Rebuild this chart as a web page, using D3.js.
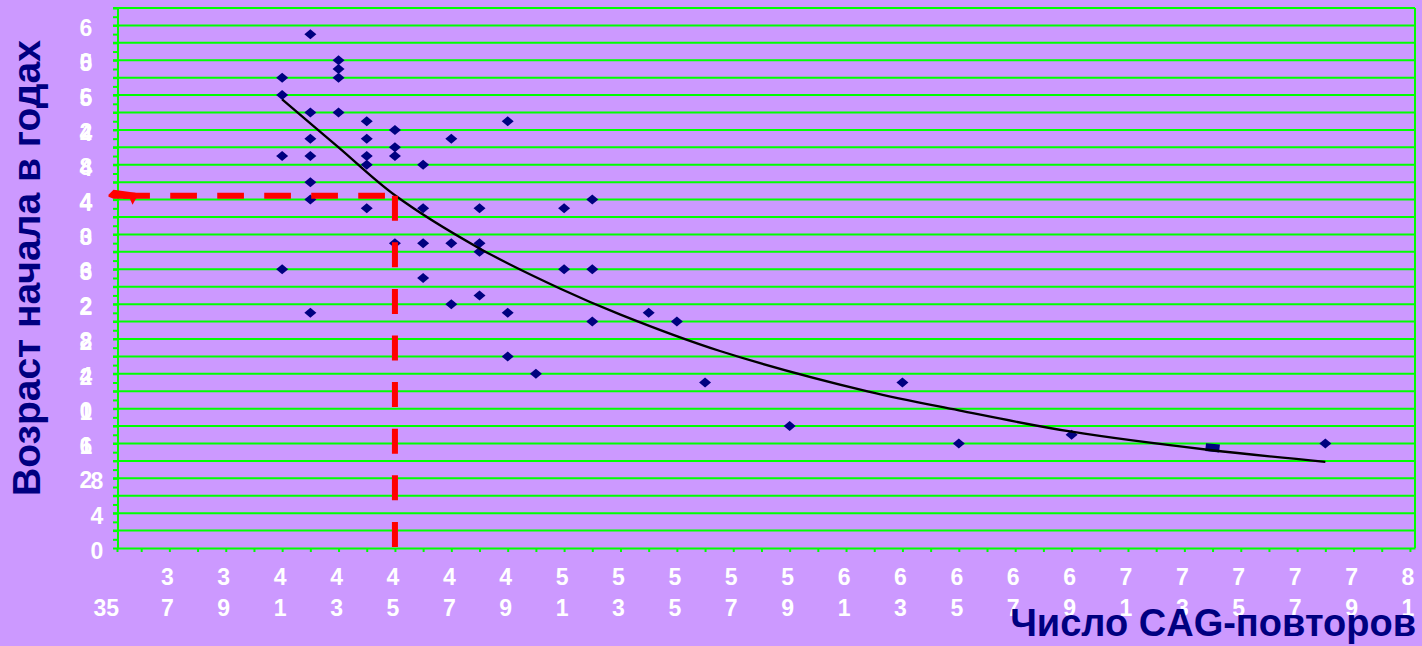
<!DOCTYPE html>
<html>
<head>
<meta charset="utf-8">
<script src="https://cdn.jsdelivr.net/npm/d3@7"></script>
<style>
  html, body { margin: 0; padding: 0; background: #CC99FF; }
  svg { display: block; }
</style>
</head>
<body>
<svg id="chart" width="1422" height="646"></svg>
<script>
// ---------- data ----------
const yAxisTitle = "Возраст начала в годах";
const xAxisTitle = "Число CAG-повторов";

const xTickLabels = [35,37,39,41,43,45,47,49,51,53,55,57,59,61,63,65,67,69,71,73,75,77,79,81];
const yTickLabels = [0,4,8,12,16,20,24,28,32,36,40,44,48,52,56,60];

// observed patients: [CAG repeats, age of onset]
const pointsX = [41,41,41,41, 42,42,42,42,42,42,42, 43,43,43,43, 44,44,44,44,44, 45,45,45,45,
                 46,46,46,46, 47,47,47, 48,48,48,48, 49,49,49, 50, 51,51, 52,52,52,
                 54,55,56,59,63,65,69,78];
const pointsY = [54,52,45,32, 59,50,47,45,42,40,27, 56,55,54,50, 49,47,45,44,39, 48,46,45,35,
                 44,39,35,31, 47,35,28, 39,35,34,29, 49,27,22, 20, 39,32, 40,32,26,
                 27,26,19,14,19,12,13,12];
const squareX = [74];
const squareY = [11.5];

// trend line
const trendX = [41, 43, 45, 48, 50.85, 53, 56.5, 61.8, 65, 69, 73.9, 78];
const trendY = [51.5, 46, 40.5, 34.4, 29.8, 26.8, 22.65, 17.95, 15.8, 13.35, 11.25, 9.9];

// annotation (red dashed guide)
const guideX = 45;
const guideY = 40.45;

// ---------- layout ----------
const svg = d3.select("#chart");
const W = 1422, H = 646;
const plot = { left: 117.5, right: 1415, top: 8, bottom: 548 };

const x = d3.scaleLinear().domain([35.16, 81.18]).range([plot.left, plot.right]);
const y = d3.scaleLinear().domain([0, 62]).range([plot.bottom, plot.top]);

const GREEN = "#00FF00";
const NAVY = "#000080";
const RED = "#FF0000";
const FONT = "'Liberation Sans', Arial, Helvetica, sans-serif";

svg.append("rect").attr("width", W).attr("height", H).attr("fill", "#CC99FF");

// gridlines (every 2 years)
svg.append("g").selectAll("line")
  .data(d3.range(2, 63, 2))
  .join("line")
  .attr("x1", plot.left - 4.5).attr("x2", plot.right)
  .attr("y1", d => y(d)).attr("y2", d => y(d))
  .attr("stroke", GREEN).attr("stroke-width", 2);

// right border
svg.append("line")
  .attr("x1", plot.right).attr("x2", plot.right)
  .attr("y1", plot.top).attr("y2", plot.bottom)
  .attr("stroke", GREEN).attr("stroke-width", 2);

// y axis
const yAxis = svg.append("g")
  .attr("transform", `translate(${plot.left},0)`)
  .call(d3.axisLeft(y).tickValues(d3.range(0, 63, 1)).tickSize(4.5).tickSizeOuter(0).tickFormat(""));
yAxis.selectAll("path,line").attr("stroke", GREEN).attr("stroke-width", 2);

// x axis
const xAxis = svg.append("g")
  .attr("transform", `translate(0,${plot.bottom})`)
  .call(d3.axisBottom(x).tickValues(d3.range(36, 82, 1)).tickSize(4).tickSizeOuter(0).tickFormat(""));
xAxis.selectAll("path,line").attr("stroke", GREEN).attr("stroke-width", 2);
svg.append("line")
  .attr("x1", plot.left).attr("x2", plot.left)
  .attr("y1", plot.bottom).attr("y2", plot.bottom + 4)
  .attr("stroke", GREEN).attr("stroke-width", 2);

// y tick labels (wrapped digits, as in the original)
const lblSize = 23, capHalf = 8;
const yl = svg.append("g").attr("font-family", FONT).attr("font-weight", "bold")
  .attr("font-size", lblSize).attr("fill", "#FFFFFF").attr("text-anchor", "middle");
yTickLabels.forEach(v => {
  const s = String(v);
  if (s.length === 1) {
    yl.append("text").attr("x", 97).attr("y", y(v) + 3 + capHalf).text(s);
  } else {
    yl.append("text").attr("x", 86).attr("y", y(v) + 3 + capHalf).text(s[0]);
    yl.append("text").attr("x", 86).attr("y", y(v) + 37 + capHalf).text(s[1]);
  }
});

// x tick labels
const xl = svg.append("g").attr("font-family", FONT).attr("font-weight", "bold")
  .attr("font-size", lblSize).attr("fill", "#FFFFFF").attr("text-anchor", "middle");
xTickLabels.forEach((v, i) => {
  const s = String(v);
  if (i === 0) {
    xl.append("text").attr("x", x(v) + 6).attr("y", 608 + capHalf)
      .attr("text-anchor", "end").text(s);
  } else {
    xl.append("text").attr("x", x(v) - 2).attr("y", 577 + capHalf).text(s[0]);
    xl.append("text").attr("x", x(v) - 2).attr("y", 608 + capHalf).text(s[1]);
  }
});

// data points (diamonds)
const diamond = (cx, cy) => `M${cx - 6},${cy}L${cx},${cy - 5}L${cx + 6},${cy}L${cx},${cy + 5}Z`;
svg.append("g").selectAll("path")
  .data(pointsX.map((v, i) => [v, pointsY[i]]))
  .join("path")
  .attr("d", d => diamond(x(d[0]), y(d[1])))
  .attr("fill", NAVY);

svg.append("g").selectAll("rect")
  .data(squareX.map((v, i) => [v, squareY[i]]))
  .join("rect")
  .attr("x", d => x(d[0]) - 7).attr("y", d => y(d[1]) - 4)
  .attr("width", 14).attr("height", 8)
  .attr("transform", d => `rotate(6,${x(d[0])},${y(d[1])})`)
  .attr("fill", NAVY);

// trend line
const line = d3.line().x(d => x(d[0])).y(d => y(d[1])).curve(d3.curveCatmullRom.alpha(0.5));
svg.append("path")
  .datum(trendX.map((v, i) => [v, trendY[i]]))
  .attr("d", line)
  .attr("fill", "none").attr("stroke", "#000").attr("stroke-width", 2.3);

// red dashed guides
const gx = x(guideX), gy = y(guideY);
svg.append("path")
  .attr("d", `M${gx - 10},${gy}L${plot.left - 2},${gy}`)
  .attr("stroke", RED).attr("stroke-width", 6).attr("fill", "none")
  .attr("stroke-dasharray", "26.7,20.3");
svg.append("path")
  .attr("d", `M${plot.left + 18},${gy - 3}L${plot.left + 18},${gy + 3}L${plot.left - 4},${gy + 3}L${plot.left - 9},${gy + 1}L${plot.left - 9},${gy - 1}L${plot.left - 4},${gy - 6}Z`)
  .attr("fill", RED);
svg.append("path")
  .attr("d", `M${plot.left + 12},${gy + 2}L${plot.left + 19},${gy + 2}L${plot.left + 15},${gy + 9}Z`)
  .attr("fill", RED);
svg.append("path")
  .attr("d", `M${gx},${gy}L${gx},${plot.bottom - 1}`)
  .attr("stroke", RED).attr("stroke-width", 6).attr("fill", "none")
  .attr("stroke-dasharray", "25,21.6");

// axis titles
svg.append("text")
  .attr("transform", `translate(40,${268}) rotate(-90)`)
  .attr("text-anchor", "middle")
  .attr("font-family", FONT).attr("font-weight", "bold").attr("font-size", 39)
  .attr("fill", NAVY).text(yAxisTitle);
svg.append("text")
  .attr("x", 1416).attr("y", 636)
  .attr("text-anchor", "end")
  .attr("font-family", FONT).attr("font-weight", "bold").attr("font-size", 38)
  .attr("fill", NAVY).text(xAxisTitle);
</script>
</body>
</html>
